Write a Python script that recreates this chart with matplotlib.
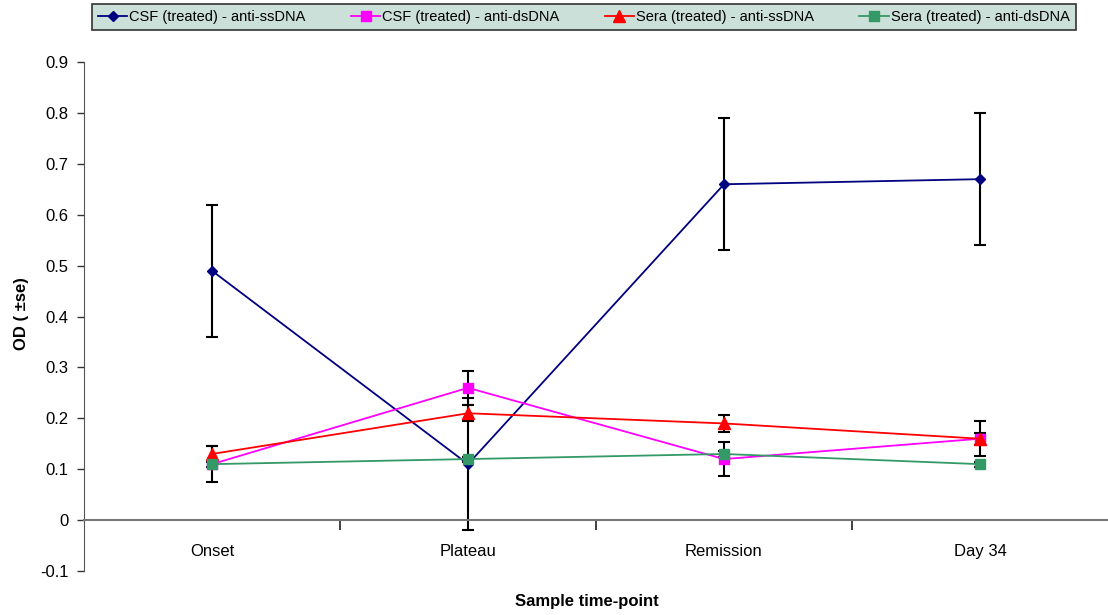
import matplotlib
matplotlib.use("Agg")
import matplotlib.pyplot as plt
import numpy as np

plt.rcParams['font.family'] = ['Liberation Sans', 'DejaVu Sans']

categories = ["Onset", "Plateau", "Remission", "Day 34"]
series_names = ["CSF (treated) - anti-ssDNA", "CSF (treated) - anti-dsDNA",
                "Sera (treated) - anti-ssDNA", "Sera (treated) - anti-dsDNA"]
csf_ss = [0.49, 0.11, 0.66, 0.67]
csf_ss_se = [0.13, 0.13, 0.13, 0.13]
csf_ds = [0.11, 0.26, 0.12, 0.16]
csf_ds_se = [0.035, 0.033, 0.034, 0.034]
sera_ss = [0.13, 0.21, 0.19, 0.16]
sera_ss_se = [0.015, 0.016, 0.017, 0.012]
sera_ds = [0.11, 0.12, 0.13, 0.11]
sera_ds_se = [0.005, 0.005, 0.005, 0.005]
yticks = [-0.1, 0, 0.1, 0.2, 0.3, 0.4, 0.5, 0.6, 0.7, 0.8, 0.9]
ytick_labels = ["-0.1", "0", "0.1", "0.2", "0.3", "0.4", "0.5", "0.6", "0.7", "0.8", "0.9"]

values = [csf_ss, csf_ds, sera_ss, sera_ds]
errors = [csf_ss_se, csf_ds_se, sera_ss_se, sera_ds_se]
colors = ["#000080", "#FF00FF", "#FF0000", "#339966"]
markers = ["D", "s", "^", "s"]
msizes = [5, 7, 8, 7]

fig = plt.figure(figsize=(11.08, 6.15), dpi=100)
ax = fig.add_axes([0.0758, 0.0715, 1 - 0.0758, 0.899 - 0.0715])
x = np.arange(len(categories))

handles = []
for v, e, c, m, ms, name in zip(values, errors, colors, markers, msizes, series_names):
    ax.errorbar(x, v, yerr=e, fmt='none', ecolor='black', elinewidth=1.5,
                capsize=4.5, capthick=1.5, zorder=2)
    h, = ax.plot(x, v, color=c, marker=m, markersize=ms, linewidth=1.3,
                 markeredgecolor=c, zorder=3, label=name)
    handles.append(h)

ax.set_xlim(-0.5, 3.5)
ax.set_ylim(-0.1, 0.9)
ax.set_yticks(yticks)
ax.set_yticklabels(ytick_labels)
ax.tick_params(axis='y', direction='out', length=5, width=1, color='#333333',
               labelsize=12, pad=6)

for s in ['top', 'right']:
    ax.spines[s].set_visible(False)
ax.spines['left'].set_color('#555555')
ax.spines['bottom'].set_position(('data', 0))
ax.spines['bottom'].set_color('#777777')
ax.spines['bottom'].set_linewidth(1.5)

ax.set_xticks(x)
ax.set_xticklabels(categories)
ax.set_xticks([0.5, 1.5, 2.5], minor=True)
ax.tick_params(axis='x', which='major', length=0, labelsize=12, pad=17)
ax.tick_params(axis='x', which='minor', length=7, width=1.2, color='#222222', direction='out')

fig.text(0.019, 0.49, "OD ( \u00b1se)", fontsize=12, fontweight='bold',
         rotation=90, ha='center', va='center')
fig.text(0.53, 0.022, "Sample time-point", fontsize=12, fontweight='bold', ha='center', va='center')

leg = fig.legend(handles=handles, loc='center', bbox_to_anchor=(0.527, 0.9725), ncol=4,
                 fontsize=10.5, frameon=True, fancybox=False, handlelength=2.0,
                 handletextpad=0.15, columnspacing=3.1, borderpad=0.4)
leg.get_frame().set_facecolor('#CCE0DA')
leg.get_frame().set_edgecolor('#333333')
leg.get_frame().set_linewidth(1.2)
leg.get_frame().set_alpha(1)

fig.savefig("out.png", dpi=100)
